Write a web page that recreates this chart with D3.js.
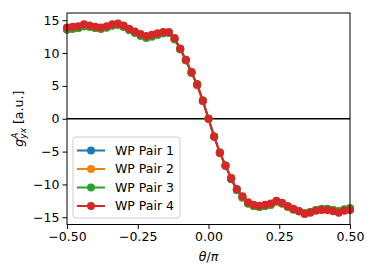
<!DOCTYPE html>
<html lang="en">
<head>
  <meta charset="UTF-8">
  <script src="https://d3js.org/d3.v7.min.js"></script>
  <title>g_yx vs theta</title>
  <style>
    body {
      margin: 0;
      background: white;
      font-family: "DejaVu Sans", sans-serif;
      overflow: hidden;
    }
    .tick text {
      font-family: "DejaVu Sans", sans-serif;
      font-size: 12.5px;
      fill: black;
    }
  </style>
</head>
<body>
<script>
  // theta / pi sample positions
  const theta = [
    -0.50, -0.48, -0.46, -0.44, -0.42, -0.40, -0.38, -0.36, -0.34, -0.32,
    -0.30, -0.28, -0.26, -0.24, -0.22, -0.20, -0.18, -0.16, -0.14, -0.12,
    -0.10, -0.08, -0.06, -0.04, -0.02, 0.00, 0.02, 0.04, 0.06, 0.08,
    0.10, 0.12, 0.14, 0.16, 0.18, 0.20, 0.22, 0.24, 0.26, 0.28,
    0.30, 0.32, 0.34, 0.36, 0.38, 0.40, 0.42, 0.44, 0.46, 0.48, 0.50
  ];

  const pair1 = [
    13.6, 13.7, 13.8, 14.1, 14.0, 13.8, 13.7, 13.9, 14.2, 14.3,
    14.0, 13.5, 13.1, 12.7, 12.4, 12.6, 12.8, 13.0, 13.1, 12.1,
    10.6, 8.9, 7.0, 5.1, 2.7, 0.0, -2.7, -5.1, -7.1, -9.0,
    -10.8, -12.0, -12.9, -13.3, -13.4, -13.3, -13.1, -12.6, -12.9, -13.4,
    -13.8, -14.1, -14.4, -14.2, -13.9, -13.8, -13.8, -13.9, -14.1, -13.8, -13.7
  ];
  const pair2 = [
    13.6, 13.7, 13.8, 14.1, 14.0, 13.8, 13.7, 13.9, 14.2, 14.3,
    14.0, 13.5, 13.1, 12.7, 12.4, 12.6, 12.8, 13.0, 13.1, 12.1,
    10.6, 8.9, 7.0, 5.1, 2.7, 0.0, -2.7, -5.1, -7.1, -9.0,
    -10.8, -12.0, -12.9, -13.3, -13.4, -13.3, -13.1, -12.6, -12.9, -13.4,
    -13.8, -14.1, -14.4, -14.2, -13.9, -13.8, -13.8, -13.9, -14.1, -13.8, -13.7
  ];
  const pair3 = [
    13.6, 13.7, 13.8, 14.1, 14.0, 13.8, 13.7, 13.9, 14.2, 14.3,
    14.0, 13.5, 13.1, 12.6, 12.3, 12.5, 12.8, 13.0, 13.1, 12.1,
    10.6, 8.9, 7.0, 5.3, 2.8, 0.0, -2.7, -5.2, -7.1, -9.2,
    -10.9, -12.0, -12.9, -13.3, -13.45, -13.3, -13.1, -12.6, -12.9, -13.4,
    -13.8, -14.1, -14.4, -14.2, -13.9, -13.7, -13.7, -13.9, -14.1, -13.8, -13.6
  ];
  const pair4 = [
    13.9, 14.0, 14.1, 14.4, 14.2, 14.0, 13.9, 14.1, 14.4, 14.5,
    14.2, 13.7, 13.3, 12.9, 12.6, 12.8, 13.0, 13.2, 13.2, 12.3,
    10.7, 9.0, 7.1, 5.2, 2.75, 0.0, -2.75, -5.2, -7.15, -9.1,
    -10.7, -11.8, -12.7, -13.1, -13.25, -13.1, -12.9, -12.5, -12.8, -13.3,
    -13.7, -14.1, -14.5, -14.3, -14.0, -13.9, -13.9, -14.1, -14.3, -14.0, -13.9
  ];

  const seriesNames = ["WP Pair 1", "WP Pair 2", "WP Pair 3", "WP Pair 4"];
  const seriesColors = ["#1f77b4", "#ff7f0e", "#2ca02c", "#d62728"];
  const seriesValues = [pair1, pair2, pair3, pair4];

  const xTicks = [-0.5, -0.25, 0, 0.25, 0.5];
  const yTicks = [-15, -10, -5, 0, 5, 10, 15];

  const width = 374, height = 272;
  const margin = { top: 13, right: 24, bottom: 47.5, left: 67 };

  const svg = d3.select("body").append("svg")
    .attr("width", width)
    .attr("height", height);

  const x = d3.scaleLinear().domain([-0.5, 0.5]).range([margin.left, width - margin.right]);
  const y = d3.scaleLinear().domain([-16.1, 16.1]).range([height - margin.bottom, margin.top]);

  // Zero line
  svg.append("line")
    .attr("x1", x(-0.5)).attr("x2", x(0.5))
    .attr("y1", y(0)).attr("y2", y(0))
    .attr("stroke", "black")
    .attr("stroke-width", 1.5);

  // Series
  const line = d3.line()
    .x((d, i) => x(theta[i]))
    .y(d => y(d));

  seriesValues.forEach((vals, k) => {
    const g = svg.append("g");
    g.append("path")
      .datum(vals)
      .attr("fill", "none")
      .attr("stroke", seriesColors[k])
      .attr("stroke-width", 2)
      .attr("d", line);
    g.selectAll("circle")
      .data(vals)
      .enter().append("circle")
      .attr("cx", (d, i) => x(theta[i]))
      .attr("cy", d => y(d))
      .attr("r", 4)
      .attr("fill", seriesColors[k]);
  });

  // Axes
  svg.append("g")
    .attr("transform", `translate(0,${height - margin.bottom})`)
    .call(d3.axisBottom(x).tickValues(xTicks).tickFormat(d3.format(".2f")).tickSize(4.5).tickPadding(3))
    .call(g => g.select(".domain").remove());

  svg.append("g")
    .attr("transform", `translate(${margin.left},0)`)
    .call(d3.axisLeft(y).tickValues(yTicks).tickSize(4.5).tickPadding(3))
    .call(g => g.select(".domain").remove());

  svg.selectAll(".tick line").attr("stroke", "black").attr("stroke-width", 1);
  // minus sign like matplotlib
  svg.selectAll(".tick text").text(function () { return this.textContent.replace("-", "\u2212"); });

  // Frame
  svg.append("rect")
    .attr("x", margin.left).attr("y", margin.top)
    .attr("width", width - margin.left - margin.right)
    .attr("height", height - margin.top - margin.bottom)
    .attr("fill", "none")
    .attr("stroke", "black")
    .attr("stroke-width", 1);

  // X label
  const xl = svg.append("text")
    .attr("x", x(0)).attr("y", 261)
    .attr("text-anchor", "middle")
    .attr("font-size", 12.5)
    .attr("font-family", "DejaVu Sans, sans-serif");
  xl.append("tspan").attr("font-style", "italic").text("θ");
  xl.append("tspan").text("/");
  xl.append("tspan").attr("font-style", "italic").text("π");

  // Y label
  const yl = svg.append("text")
    .attr("transform", `translate(23,${y(0)}) rotate(-90)`)
    .attr("text-anchor", "middle")
    .attr("font-size", 12.5)
    .attr("font-family", "DejaVu Sans, sans-serif");
  yl.append("tspan").attr("font-style", "italic").text("g");
  yl.append("tspan").attr("font-size", 9).attr("font-style", "italic").attr("dy", -5).text("A");
  yl.append("tspan").attr("font-size", 9).attr("font-style", "italic").attr("dx", -6).attr("dy", 8).text("yx");
  yl.append("tspan").attr("dy", -3).text(" [a.u.]");

  // Legend
  const legend = svg.append("g").attr("transform", "translate(73,137)");
  legend.append("rect")
    .attr("width", 107).attr("height", 81)
    .attr("rx", 3)
    .attr("fill", "white").attr("fill-opacity", 0.8)
    .attr("stroke", "#cccccc").attr("stroke-width", 1);
  seriesNames.forEach((name, k) => {
    const row = legend.append("g").attr("transform", `translate(0,${13.5 + k * 18.5})`);
    row.append("line")
      .attr("x1", 4).attr("x2", 32)
      .attr("stroke", seriesColors[k]).attr("stroke-width", 2);
    row.append("circle").attr("cx", 18).attr("r", 4).attr("fill", seriesColors[k]);
    row.append("text")
      .attr("x", 42).attr("dy", "0.35em")
      .attr("font-size", 12.5)
      .attr("font-family", "DejaVu Sans, sans-serif")
      .text(name);
  });
</script>
</body>
</html>
